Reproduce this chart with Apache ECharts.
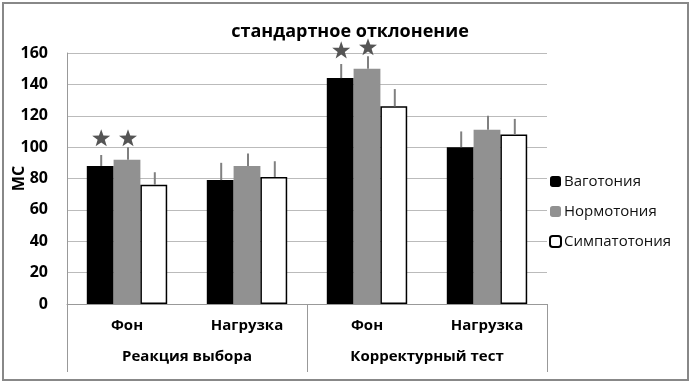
<!DOCTYPE html>
<html>
<head>
<meta charset="utf-8">
<script src="https://cdn.jsdelivr.net/npm/echarts@6/dist/echarts.min.js"></script>
<style>
html, body { margin: 0; padding: 0; background: #fff; }
#chart { width: 693px; height: 384px; }
</style>
</head>
<body>
<div id="chart"></div>
<script>
var subCats = ['Фон', 'Нагрузка', 'Фон', 'Нагрузка'];
var groupCats = ['Реакция выбора', 'Корректурный тест'];
var seriesNames = ['Ваготония', 'Нормотония', 'Симпатотония'];
var vago = [88, 79, 144, 100];
var normo = [92, 88, 150, 111];
var simpa = [76, 81, 126, 108];
var vagoErr = [7, 11, 9, 10];
var normoErr = [8, 8, 8, 9];
var simpaErr = [8, 10, 11, 10];
// stars: [category, series, height]
var stars = [[0, 0, 106], [0, 1, 106], [2, 0, 162], [2, 1, 164]];

var font = '"Open Sans", sans-serif';
var starPath = 'M0,-10 L2.35,-3.24 L9.51,-3.09 L3.8,1.24 L5.88,8.09 L0,4 L-5.88,8.09 L-3.8,1.24 L-9.51,-3.09 L-2.35,-3.24 Z';

var means = [vago, normo, simpa];
var errs = [vagoErr, normoErr, simpaErr];
var errData = [];
for (var s = 0; s < 3; s++) {
  for (var i = 0; i < 4; i++) {
    errData.push([i, s, means[s][i], means[s][i] + errs[s][i]]);
  }
}

function barOffset(api, s) {
  var catW = api.size([1, 0])[0];
  var bw = catW * 0.67 / 3;
  return (s - 1) * bw;
}

var myChart = echarts.init(document.getElementById('chart'));
var option = {
  animation: false,
  title: {
    text: 'стандартное отклонение',
    left: 345, top: 18, textAlign: 'center',
    textStyle: { fontFamily: font, fontSize: 18, fontWeight: 'bold', color: '#000' }
  },
  legend: {
    orient: 'vertical',
    left: 549, top: 174, padding: 0,
    itemWidth: 11, itemHeight: 11, itemGap: 15,
    data: seriesNames,
    textStyle: { fontFamily: font, fontSize: 15, color: '#111', padding: [0, 0, 0, -2] }
  },
  grid: { left: 67, right: 146, top: 53, bottom: 80, outerBoundsMode: 'none' },
  xAxis: [{
    type: 'category',
    data: subCats,
    axisLine: { lineStyle: { color: '#999', width: 1 } },
    axisTick: { show: false },
    axisLabel: { margin: 14, fontFamily: font, fontSize: 15, fontWeight: 'bold', color: '#000' }
  }, {
    type: 'category',
    position: 'bottom',
    data: groupCats,
    axisLine: { show: false },
    axisTick: { show: true, length: 68, lineStyle: { color: '#999' } },
    axisLabel: { margin: 45, fontFamily: font, fontSize: 15, fontWeight: 'bold', color: '#000' }
  }],
  yAxis: {
    type: 'value',
    min: 0, max: 160, interval: 20,
    name: 'МС',
    nameLocation: 'middle',
    nameGap: 40,
    nameMoveOverlap: false,
    nameTextStyle: { fontFamily: font, fontSize: 16, fontWeight: 'bold', color: '#000' },
    axisLine: { show: true, lineStyle: { color: '#999' } },
    axisTick: { show: false },
    axisLabel: { margin: 19, fontFamily: font, fontSize: 16, fontWeight: 'bold', color: '#000' },
    splitLine: { lineStyle: { color: '#bbb' } }
  },
  graphic: [{
    type: 'rect',
    shape: { x: 3, y: 3, width: 685, height: 377 },
    style: { fill: 'none', stroke: '#888', lineWidth: 2 }
  }],
  series: [{
    name: seriesNames[0], type: 'bar', data: vago,
    barGap: 0, barCategoryGap: '33%',
    itemStyle: { color: '#000' }
  }, {
    name: seriesNames[1], type: 'bar', data: normo,
    itemStyle: { color: '#919191' }
  }, {
    name: seriesNames[2], type: 'bar', data: simpa,
    itemStyle: { color: '#fff', borderColor: '#000', borderWidth: 1.5 }
  }, {
    type: 'custom',
    data: errData,
    z: 10,
    renderItem: function (params, api) {
      var p0 = api.coord([api.value(0), api.value(2)]);
      var p1 = api.coord([api.value(0), api.value(3)]);
      var x = p0[0] + barOffset(api, api.value(1)) + 1;
      return {
        type: 'line',
        shape: { x1: x, y1: p0[1], x2: x, y2: p1[1] },
        style: { stroke: '#808080', lineWidth: 2 }
      };
    }
  }, {
    type: 'custom',
    data: stars,
    z: 10,
    renderItem: function (params, api) {
      var p = api.coord([api.value(0), api.value(2)]);
      var x = p[0] + barOffset(api, api.value(1)) + 1;
      return {
        type: 'path',
        shape: { pathData: starPath, x: x - 9, y: p[1] - 9, width: 18, height: 18, layout: 'center' },
        style: { fill: '#555' }
      };
    }
  }]
};
myChart.setOption(option);
</script>
</body>
</html>
